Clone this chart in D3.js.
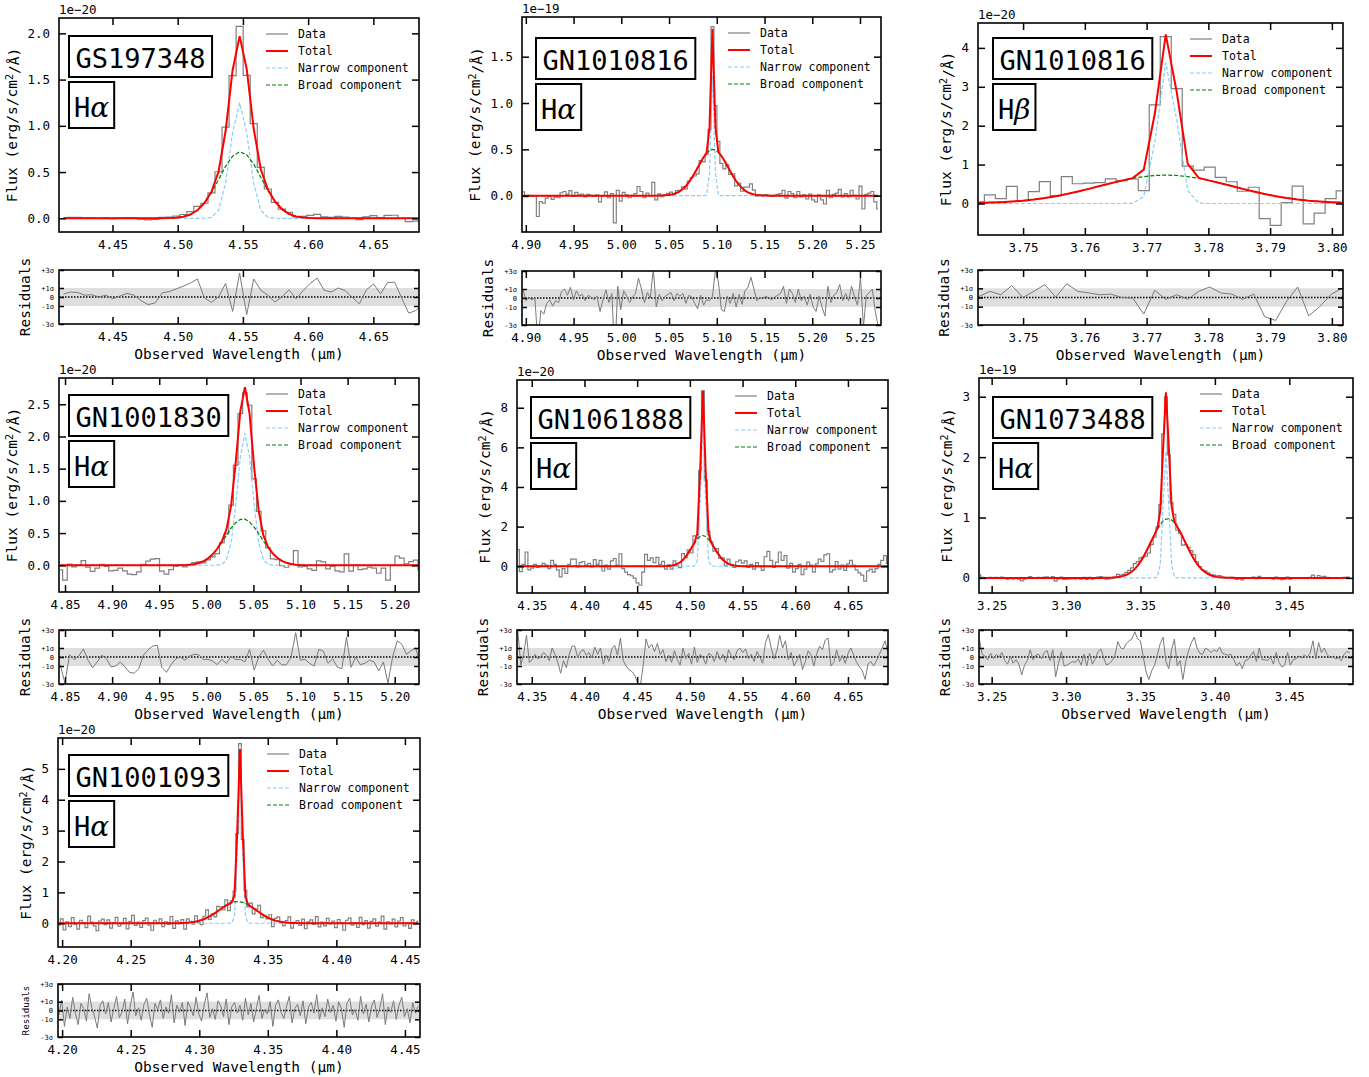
<!DOCTYPE html>
<html>
<head>
<meta charset="utf-8">
<script src="https://cdn.jsdelivr.net/npm/d3@7"></script>
<style>
body{margin:0;background:#fff}
svg{display:block}
text{font-family:"DejaVu Sans Mono",monospace;fill:#000}
</style>
</head>
<body>
<svg id="fig" width="1369" height="1077"></svg>
<script>
//Panel names and lines-------------------------------------------------------------------------------
var panelNames = ["GS197348","GN1010816","GN1010816","GN1001830","GN1061888","GN1073488","GN1001093"];
var greekLetter = ["\u03b1","\u03b1","\u03b2","\u03b1","\u03b1","\u03b1","\u03b1"];
var fluxExponent = ["1e\u221220","1e\u221219","1e\u221220","1e\u221220","1e\u221220","1e\u221219","1e\u221220"];

//Wavelength grid of each spectrum (bin centre of first pixel, pixel width, micron)-------------------
var gridStart = [4.4125, 4.8971, 3.74284, 4.845, 4.3369, 3.2417, 4.1977];
var gridStep  = [0.0054, 0.0031, 0.00178, 0.0049, 0.0027, 0.0019, 0.0020];

//Fitted components (amplitude in panel units, centre and sigma in micron)----------------------------
var narrowAmp = [1.25, 1.30, 3.65, 2.05, 7.30, 2.10, 4.95];
var narrowCen = [4.5475, 5.0955, 3.7733, 5.041, 4.5124, 3.3671, 4.3297];
var narrowSig = [0.0070, 0.0017, 0.00153, 0.0078, 0.0021, 0.0018, 0.0016];
var broadAmp  = [0.72, 0.50, 0.73, 0.72, 1.55, 0.98, 0.70];
var broadCen  = [4.548, 5.096, 3.7731, 5.039, 4.5124, 3.3685, 4.328];
var broadSig  = [0.016, 0.016, 0.0108, 0.019, 0.0107, 0.0115, 0.0135];

//Noise level: sigma = errBase + errScale*model-------------------------------------------------------
var errBase  = [0.02, 0.045, 0.30, 0.08, 0.30, 0.025, 0.12];
var errScale = [0.01, 0.04, 0.0, 0.03, 0.03, 0.04, 0.03];

//Residuals (data-model)/sigma per pixel---------------------------------------------------------------
var residGS197348 = [0.33,0.55,0.5,0.2,0.25,0.0,0.2,-0.2,0.1,0.4,0.2,-0.4,-0.85,-0.65,0.45,0.6,0.9,1.2,1.55,2.0,
	-0.1,-0.6,0.0,1.5,-1.6,2.65,-1.95,2.0,0.75,0.2,-0.55,0.0,0.8,-0.2,0.7,1.5,2.1,0.75,0.55,1.0,
	0.7,-0.05,-0.75,0.8,1.45,0.35,1.6,1.65,-0.1,-1.8,-1.5,-0.8];
var residGN1010816a = [0.9,-0.3,0.1,-0.2,0.0,-5.0,-1.4,-1.8,-0.6,-0.2,
	-0.9,-0.3,-0.5,0.7,1.0,0.3,1.2,-0.2,0.8,0.2,
	0.4,-0.3,0.3,0.1,-0.2,0.2,-1.5,-0.2,0.9,-0.5,
	0.5,-6.5,1.3,-1.3,0.8,0.2,-0.5,0.1,0.5,2.2,
	1.0,-0.5,0.6,0.0,3.2,-1.0,0.4,-0.3,0.2,0.4,
	0.6,-0.3,0.5,0.2,0.5,-0.6,0.3,0.1,-0.6,-1.2,
	0.3,-0.8,-0.2,-0.3,0.2,3.1,1.8,-1.3,-1.5,0.2,
	-0.6,0.5,-1.0,0.4,-0.7,0.8,1.2,2.3,1.0,-0.3,
	0.1,-0.1,0.2,0.0,-0.2,0.1,0.3,0.5,1.3,-0.6,
	1.0,0.5,-0.5,1.0,-0.3,0.2,-0.8,0.4,-1.0,-1.5,
	0.2,-1.0,-2.0,1.3,-0.5,0.3,0.6,1.5,-0.3,0.5,
	-0.3,1.3,0.1,-0.8,2.3,-3.2,0.3,0.6,1.0,-1.5,
	-3.2];
var residGN1010816b = [0.1,0.67,0.3,1.3,0.0,0.67,1.4,0.04,1.5,0.67,0.5,0.3,0.37,0.0,-0.07,-1.8,0.78,
	-0.2,0.3,-0.2,0.67,1.15,0.5,0.37,-0.2,0.37,-2.1,-2.5,-0.4,1.15,-2.0,-1.0,0.3,1.0];
var residGN1001830 = [-0.9,-2.9,0.25,-0.3,0.1,0.9,-0.35,-1.2,-0.55,0.2,-0.2,-1.1,-1.0,-0.55,-1.1,-1.7,-1.8,-1.3,0.2,0.8,
	1.2,1.3,-1.15,-1.7,-0.85,-0.2,0.0,-0.35,0.1,0.3,0.25,-0.3,-0.25,-0.45,-0.85,-0.25,-0.7,0.1,-0.3,-0.25,
	-0.55,0.85,-1.45,0.0,0.75,-0.2,-1.0,-0.35,-0.9,-0.85,0.0,2.7,-0.35,-0.25,-0.7,-1.0,0.85,0.65,-0.7,-0.2,
	-1.1,-1.3,2.2,-1.15,0.0,-0.85,-0.7,-0.35,-0.55,-1.55,-0.55,-2.9,0.0,1.8,1.4,0.3,0.7,1.0,-0.9];
var residGN1061888 = [2.8,-0.9,0.3,2.4,-0.6,-0.3,0.3,-0.2,0.0,0.5,
	0.2,-0.4,1.0,0.3,-0.6,-1.8,-0.4,-1.2,0.3,1.2,
	1.2,-0.1,0.6,0.8,0.2,0.5,-0.1,1.1,0.3,1.0,
	-0.8,0.2,-0.5,0.9,1.3,0.2,2.1,-0.4,-1.0,-1.4,
	-1.6,-2.0,-2.8,-3.2,-1.0,2.0,1.0,1.4,0.6,1.5,
	0.3,0.8,-0.5,0.2,-0.6,0.7,-0.3,-0.9,1.0,-0.2,
	0.4,-0.8,1.1,-0.6,0.3,0.0,-0.8,0.4,0.2,-0.5,
	0.6,-0.3,0.3,-0.6,0.8,0.1,-0.3,0.7,1.0,0.5,
	0.9,-0.2,0.3,-0.5,0.6,0.0,-0.7,1.6,2.5,1.0,
	-0.2,0.7,2.4,1.0,1.8,-0.3,0.5,-1.0,-0.4,0.3,
	-1.4,-0.5,0.7,0.2,-1.0,0.4,1.2,0.8,1.9,2.1,
	-1.0,-0.6,0.8,-0.5,0.2,-0.7,0.4,1.0,0.2,-0.6,
	-1.1,-1.5,-2.5,-0.8,-0.5,-1.0,-0.4,0.3,1.0,1.8,0.5];
var residGN1073488 = [2.0,0.3,0.1,-0.3,0.4,-0.2,0.3,0.0,0.5,-0.4,
	-0.8,0.1,-0.7,-0.3,-0.8,-2.0,-0.9,-0.4,0.8,-0.3,
	0.2,0.3,-0.2,0.5,0.7,-0.4,0.8,-2.2,-0.7,0.6,
	-1.0,-0.9,-0.7,-0.5,-0.6,-0.2,-0.9,0.3,-1.0,0.4,
	-0.8,-0.2,0.6,0.9,-0.1,-0.9,-0.7,-0.4,0.2,1.7,
	1.0,0.9,1.5,1.8,2.0,2.8,2.0,1.8,0.0,-1.7,
	-2.5,-1.5,-0.9,0.3,1.5,2.2,-0.5,-1.3,0.8,2.0,
	-1.0,-0.4,-2.5,-0.5,0.7,1.6,2.2,1.0,0.4,0.3,
	1.0,0.8,0.5,0.8,0.6,1.1,0.4,0.3,0.2,0.3,
	-0.3,-1.0,-0.6,-1.3,-0.4,-0.3,0.2,0.6,-0.5,1.0,
	-0.3,-0.3,-0.4,0.0,-0.8,0.5,-0.6,-1.1,-0.9,0.5,
	-0.9,-0.3,-0.2,0.1,-0.1,0.2,0.0,0.4,1.8,-0.2,
	1.6,0.5,1.0,0.3,-0.1,0.0,-0.2,-0.1,-0.4,0.3,0.6,0.5];
var residGN1001093 = [-0.5,1.2,-1.8,0.4,-0.9,1.5,-0.3,-1.6,0.8,0.2,
	-1.2,1.9,0.3,-0.7,-2.0,0.6,1.1,-0.4,0.9,-1.3,
	0.2,1.6,-0.8,-0.2,1.3,-1.5,0.5,2.1,-0.6,0.3,
	-1.1,0.7,1.4,-0.5,-1.9,0.8,0.1,1.2,-0.9,0.4,
	-0.3,1.8,-1.4,0.6,-0.2,0.9,-1.7,1.0,0.3,-0.6,
	1.5,-0.4,-1.2,0.7,2.0,-0.8,0.2,-1.0,1.1,0.5,
	-0.7,1.3,-1.6,0.4,0.9,-0.3,0.6,-1.1,1.4,-0.5,
	0.8,-1.3,0.3,1.7,-0.9,0.1,-0.4,1.0,-1.8,0.6,
	1.2,-0.2,-0.9,0.5,1.6,-1.4,0.2,0.7,-0.6,1.1,
	-1.5,0.4,0.9,-0.3,1.8,-1.0,0.3,-0.7,1.3,-0.2,
	0.6,-1.2,1.0,0.2,-1.9,0.8,1.4,-0.5,0.1,-1.1,
	1.6,-0.4,0.7,-1.3,0.5,1.2,-0.8,0.3,1.9,-1.6,
	0.4,-0.2,1.1,-1.0,0.6,1.5,-0.7,0.2,-1.4,0.9,-0.3,0.5];
var residuals = [residGS197348, residGN1010816a, residGN1010816b, residGN1001830, residGN1061888, residGN1073488, residGN1001093];

//Tick values------------------------------------------------------------------------------------------
var xTicks = [
	[4.45,4.50,4.55,4.60,4.65],
	[4.90,4.95,5.00,5.05,5.10,5.15,5.20,5.25],
	[3.75,3.76,3.77,3.78,3.79,3.80],
	[4.85,4.90,4.95,5.00,5.05,5.10,5.15,5.20],
	[4.35,4.40,4.45,4.50,4.55,4.60,4.65],
	[3.25,3.30,3.35,3.40,3.45],
	[4.20,4.25,4.30,4.35,4.40,4.45]];
var yTicks = [
	[0.0,0.5,1.0,1.5,2.0],
	[0.0,0.5,1.0,1.5],
	[0,1,2,3,4],
	[0.0,0.5,1.0,1.5,2.0,2.5],
	[0,2,4,6,8],
	[0,1,2,3],
	[0,1,2,3,4,5]];
var yTickFormat = [".1f",".1f","d",".1f","d","d","d"];
var residTicks = [-3,-1,0,1,3];
var residTickLabels = {"-3":"-3\u03c3","-1":"-1\u03c3","0":"0","1":"+1\u03c3","3":"+3\u03c3"};

//Layout of each panel (pixels) and axis limits--------------------------------------------------------
var layout = [
	{left:59, right:419, top:18, bottom:232, rTop:270, rBottom:324, xDom:[4.409,4.685], yDom:[-0.148,2.166], boxDx:10, boxDy:18, rFont:14.5},
	{left:522, right:881, top:17, bottom:232, rTop:271, rBottom:325, xDom:[4.896,5.272], yDom:[-0.392,1.928], boxDx:14, boxDy:21, rFont:14.5},
	{left:978, right:1343, top:23, bottom:235, rTop:270, rBottom:325, xDom:[3.7427,3.8018], yDom:[-0.81,4.64], boxDx:15, boxDy:15, rFont:14.5},
	{left:59, right:419, top:378, bottom:592, rTop:630, rBottom:684, xDom:[4.8436,5.2258], yDom:[-0.415,2.908], boxDx:10, boxDy:17, rFont:14.5},
	{left:517, right:888, top:380, bottom:593, rTop:630, rBottom:684, xDom:[4.336,4.688], yDom:[-1.35,9.40], boxDx:14, boxDy:17, rFont:14.5},
	{left:979, right:1353, top:378, bottom:593, rTop:630, rBottom:684, xDom:[3.2415,3.4928], yDom:[-0.25,3.31], boxDx:14, boxDy:19, rFont:14.5},
	{left:58, right:420, top:738, bottom:947, rTop:984, rBottom:1037, xDom:[4.197,4.461], yDom:[-0.77,6.0], boxDx:11, boxDy:17, rFont:9.2}];

var legendItems = [
	{label:"Data", color:"#808080", dash:null, width:1.2},
	{label:"Total", color:"#ff0000", dash:null, width:2},
	{label:"Narrow component", color:"#87cefa", dash:"4,2", width:1.2},
	{label:"Broad component", color:"#008000", dash:"4,2", width:1.2}];

var svg = d3.select("#fig");
var defs = svg.append("defs");

function Gauss(w, amp, cen, sig)
{
	return amp*Math.exp(-0.5*Math.pow((w-cen)/sig,2));
}

//Style an axis group: black ticks, no domain line--------------------------------------------------
function StyleAxis(g, fontSize)
{
	g.select(".domain").remove();
	g.selectAll(".tick line").attr("stroke","#000").attr("stroke-width",1.5);
	g.selectAll(".tick text").attr("font-size",fontSize).attr("font-family","DejaVu Sans Mono").attr("fill","#000");
	g.attr("font-size",null).attr("font-family",null);
}

function DrawPanel(i)
{
	var L = layout[i];
	var res = residuals[i];
	var wave = res.map(function(r,j){ return gridStart[i] + j*gridStep[i]; });
	var narrow = wave.map(function(w){ return Gauss(w, narrowAmp[i], narrowCen[i], narrowSig[i]); });
	var broad = wave.map(function(w){ return Gauss(w, broadAmp[i], broadCen[i], broadSig[i]); });
	var total = narrow.map(function(v,j){ return v + broad[j]; });
	var flux = total.map(function(t,j){ return t + (errBase[i] + errScale[i]*t)*res[j]; });

	var x = d3.scaleLinear().domain(L.xDom).range([L.left, L.right]);
	var y = d3.scaleLinear().domain(L.yDom).range([L.bottom, L.top]);
	var yr = d3.scaleLinear().domain([-3,3]).range([L.rBottom, L.rTop]);

	var g = svg.append("g").attr("id","panel"+i);

	defs.append("clipPath").attr("id","clipMain"+i).append("rect")
		.attr("x",L.left).attr("y",L.top).attr("width",L.right-L.left).attr("height",L.bottom-L.top);
	defs.append("clipPath").attr("id","clipRes"+i).append("rect")
		.attr("x",L.left).attr("y",L.rTop).attr("width",L.right-L.left).attr("height",L.rBottom-L.rTop);

	//Main spectrum--------------------------------------------------------------------------------
	var plot = g.append("g").attr("clip-path","url(#clipMain"+i+")");
	var stepLine = d3.line().curve(d3.curveStep).x(function(d,j){ return x(wave[j]); }).y(function(d){ return y(d); });
	var polyLine = d3.line().x(function(d,j){ return x(wave[j]); }).y(function(d){ return y(d); });

	plot.append("path").attr("d",stepLine(flux)).attr("fill","none").attr("stroke","#808080").attr("stroke-width",1.2);
	plot.append("path").attr("d",polyLine(narrow)).attr("fill","none").attr("stroke","#87cefa").attr("stroke-width",1.2).attr("stroke-dasharray","4,2");
	plot.append("path").attr("d",polyLine(broad)).attr("fill","none").attr("stroke","#008000").attr("stroke-width",1.2).attr("stroke-dasharray","4,2");
	plot.append("path").attr("d",polyLine(total)).attr("fill","none").attr("stroke","#ff0000").attr("stroke-width",2);

	//Axes of main plot------------------------------------------------------------------------------
	var xb = g.append("g").attr("transform","translate(0,"+L.bottom+")")
		.call(d3.axisBottom(x).tickValues(xTicks[i]).tickFormat(d3.format(".2f")).tickSize(-7).tickPadding(8));
	StyleAxis(xb, 12.5);
	var xt = g.append("g").attr("transform","translate(0,"+L.top+")")
		.call(d3.axisTop(x).tickValues(xTicks[i]).tickFormat("").tickSize(-7));
	StyleAxis(xt, 12.5);
	var yl = g.append("g").attr("transform","translate("+L.left+",0)")
		.call(d3.axisLeft(y).tickValues(yTicks[i]).tickFormat(d3.format(yTickFormat[i])).tickSize(-7).tickPadding(9));
	StyleAxis(yl, 12.5);
	var yrt = g.append("g").attr("transform","translate("+L.right+",0)")
		.call(d3.axisRight(y).tickValues(yTicks[i]).tickFormat("").tickSize(-7));
	StyleAxis(yrt, 12.5);

	g.append("rect").attr("x",L.left).attr("y",L.top).attr("width",L.right-L.left).attr("height",L.bottom-L.top)
		.attr("fill","none").attr("stroke","#000").attr("stroke-width",1.6);

	//Offset text
	g.append("text").attr("x",L.left).attr("y",L.top-4).attr("font-size",12.5).text(fluxExponent[i]);

	//Y label, placed left of the widest tick label
	var maxW = 0;
	yl.selectAll(".tick text").each(function(){ maxW = Math.max(maxW, this.getComputedTextLength()); });
	var labX = L.left - 9 - maxW - 10;
	var labY = (L.top + L.bottom)/2;
	var ylab = g.append("text").attr("transform","translate("+labX+","+labY+") rotate(-90)")
		.attr("text-anchor","middle").attr("font-size",14.5);
	ylab.append("tspan").text("Flux (erg/s/cm");
	ylab.append("tspan").attr("dy","-0.4em").attr("font-size",10).text("2");
	ylab.append("tspan").attr("dy","0.4em").text("/\u00c5)");

	//Name box and line box
	var bx = L.left + L.boxDx, by = L.top + L.boxDy;
	var nameRect = g.append("rect").attr("x",bx).attr("y",by).attr("height",41)
		.attr("fill","#fff").attr("stroke","#000").attr("stroke-width",2);
	var nameText = g.append("text").attr("x",bx+6.5).attr("y",by+32).attr("font-size",27).text(panelNames[i]);
	nameRect.attr("width",nameText.node().getComputedTextLength()+13);

	var lb = by + 46;
	var lineRect = g.append("rect").attr("x",bx).attr("y",lb).attr("height",46)
		.attr("fill","#fff").attr("stroke","#000").attr("stroke-width",2);
	var lineText = g.append("text").attr("x",bx+5).attr("y",lb+35).attr("font-size",27);
	lineText.append("tspan").text("H");
	lineText.append("tspan").attr("font-family","DejaVu Serif").attr("font-style","italic").attr("font-size",28).text(greekLetter[i]);
	lineRect.attr("width",lineText.node().getComputedTextLength()+10);

	//Legend
	var lx = L.right - 121;
	legendItems.forEach(function(item,k){
		var ly = L.top + 16 + 17*k;
		g.append("line").attr("x1",lx-32).attr("x2",lx-10).attr("y1",ly).attr("y2",ly)
			.attr("stroke",item.color).attr("stroke-width",item.width).attr("stroke-dasharray",item.dash);
		g.append("text").attr("x",lx).attr("y",ly+4).attr("font-size",11.5).text(item.label);
	});

	//Residual plot------------------------------------------------------------------------------------
	g.append("rect").attr("x",L.left).attr("y",yr(1)).attr("width",L.right-L.left).attr("height",yr(-1)-yr(1))
		.attr("fill","#dedede");
	g.append("line").attr("x1",L.left).attr("x2",L.right).attr("y1",yr(0)).attr("y2",yr(0))
		.attr("stroke","#000").attr("stroke-width",1.3).attr("stroke-dasharray","1.5,1.5");
	var resLine = d3.line().x(function(d,j){ return x(wave[j]); }).y(function(d){ return yr(d); });
	g.append("g").attr("clip-path","url(#clipRes"+i+")")
		.append("path").attr("d",resLine(res)).attr("fill","none").attr("stroke","#7a7a7a").attr("stroke-width",1);

	var rxb = g.append("g").attr("transform","translate(0,"+L.rBottom+")")
		.call(d3.axisBottom(x).tickValues(xTicks[i]).tickFormat(d3.format(".2f")).tickSize(-7).tickPadding(8));
	StyleAxis(rxb, 12.5);
	var rxt = g.append("g").attr("transform","translate(0,"+L.rTop+")")
		.call(d3.axisTop(x).tickValues(xTicks[i]).tickFormat("").tickSize(-7));
	StyleAxis(rxt, 12.5);
	var ryl = g.append("g").attr("transform","translate("+L.left+",0)")
		.call(d3.axisLeft(yr).tickValues(residTicks).tickFormat(function(d){ return residTickLabels[d]; }).tickSize(-5).tickPadding(5));
	StyleAxis(ryl, 7);
	var ryr = g.append("g").attr("transform","translate("+L.right+",0)")
		.call(d3.axisRight(yr).tickValues(residTicks).tickFormat("").tickSize(-5));
	StyleAxis(ryr, 7);

	g.append("rect").attr("x",L.left).attr("y",L.rTop).attr("width",L.right-L.left).attr("height",L.rBottom-L.rTop)
		.attr("fill","none").attr("stroke","#000").attr("stroke-width",1.6);

	g.append("text").attr("x",(L.left+L.right)/2).attr("y",L.rBottom+35).attr("text-anchor","middle")
		.attr("font-size",14.5).text("Observed Wavelength (\u03bcm)");
	g.append("text").attr("transform","translate("+(L.left-29)+","+((L.rTop+L.rBottom)/2)+") rotate(-90)")
		.attr("text-anchor","middle").attr("font-size",L.rFont).text("Residuals");
}

for(var i=0;i<panelNames.length;i++)
	{
		DrawPanel(i);
	}
</script>
</body>
</html>
